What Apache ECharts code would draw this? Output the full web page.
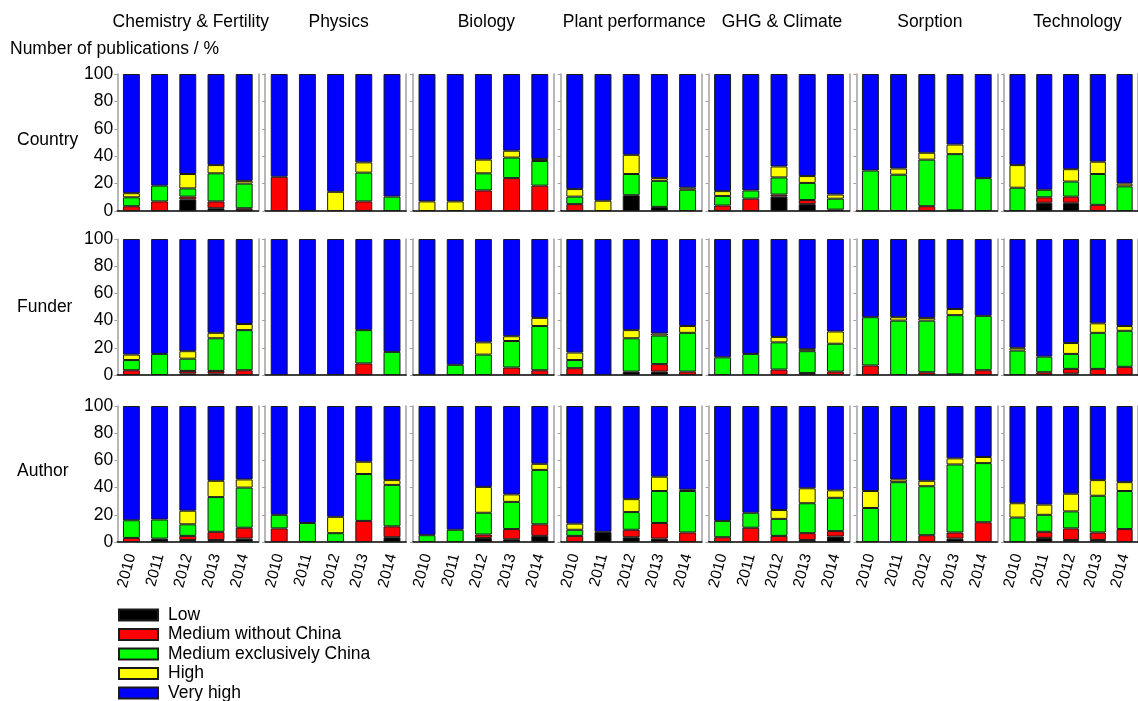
<!DOCTYPE html>
<html>
<head>
<meta charset="utf-8">
<title>Publications by impact level</title>
<script src="https://cdn.jsdelivr.net/npm/echarts@6/dist/echarts.min.js"></script>
<style>
  html, body { margin: 0; padding: 0; background: #fff; }
  #chart { width: 1138px; height: 701px; }
</style>
</head>
<body>
<div id="chart"></div>
<script>
const topics = ['Chemistry & Fertility', 'Physics', 'Biology', 'Plant performance', 'GHG & Climate', 'Sorption', 'Technology']
const rows = ['Country', 'Funder', 'Author']
const years = ['2010', '2011', '2012', '2013', '2014']
const levels = ['Low', 'Medium without China', 'Medium exclusively China', 'High', 'Very high']

// one line per topic, values per year (2010..2014), share in %
const countryLow = [[0, 0, 8.5, 2, 0.5], [0, 0, 0, 0, 0], [0, 0, 0, 0, 0], [0, 0, 11.5, 3, 0], [0, 0, 10.5, 5, 1], [0, 0, 0, 0.5, 0], [0, 6, 6, 0, 0]]
const countryMedWo = [[3.5, 7, 2, 5, 1.5], [25, 0, 0, 7, 0], [0, 0, 15, 24, 18.5], [5, 0, 0, 0, 0], [4, 9, 1.5, 3, 0], [0, 0, 3.5, 0, 0], [0, 4, 4.5, 4.5, 0]]
const countryMedCh = [[6.5, 11.5, 6, 20.5, 18], [0, 0, 0, 21, 10.5], [0, 0, 12.5, 15, 18], [5.5, 0, 15.5, 19, 15.5], [7, 6, 12.5, 12.5, 8], [29.5, 26.5, 34, 41, 24], [17, 5.5, 11, 22.5, 18]]
const countryHigh = [[3, 0, 10.5, 6, 2], [0, 0, 14, 7.5, 0], [7, 7, 10, 5, 1.5], [5.5, 7.5, 14, 2, 1.5], [3.5, 0, 8, 5, 3], [0, 4.5, 5, 7, 0], [16.5, 0, 9, 9, 2]]
const countryVeryHigh = [[87, 81.5, 73, 66.5, 78], [75, 100, 86, 64.5, 89.5], [93, 93, 62.5, 56, 62], [84, 92.5, 59, 76, 83], [85.5, 85, 67.5, 74.5, 88], [70.5, 69, 57.5, 51.5, 76], [66.5, 84.5, 69.5, 64, 80]]

const funderLow = [[0, 0, 1, 1, 0], [0, 0, 0, 0, 0], [0, 0, 0, 0, 0], [0, 0, 2.5, 2.5, 0], [0, 0, 0, 0, 0], [0, 0, 0, 0.5, 0], [0, 0, 1, 0, 0]]
const funderMedWo = [[3.5, 0, 2, 2, 3.5], [0, 0, 0, 8.5, 0], [0, 0, 0, 5.5, 3.5], [5, 0, 0, 5.5, 2.5], [0, 0, 4, 1.5, 2.5], [7, 0, 2, 0, 3.5], [0, 2, 3.5, 4.5, 6]]
const funderMedCh = [[7.5, 15.5, 9, 24, 29.5], [0, 0, 0, 24.5, 17], [0, 7.5, 15, 19.5, 32.5], [6, 0, 24.5, 21, 28.5], [13, 15.5, 20, 16, 20.5], [35.5, 40, 38, 43.5, 40], [18, 11.5, 11, 26.5, 26.5]]
const funderHigh = [[4, 0, 5.5, 4, 4.5], [0, 0, 0, 0, 0], [0, 0, 9, 3.5, 6], [5.5, 0, 6, 1.5, 5], [0, 0, 4, 1.5, 9], [0, 2.5, 2, 4.5, 0], [2, 0, 8, 7, 3.5]]
const funderVeryHigh = [[85, 84.5, 82.5, 69, 62.5], [100, 100, 100, 67, 83], [100, 92.5, 76, 71.5, 58], [83.5, 100, 67, 69.5, 64], [87, 84.5, 72, 81, 68], [57.5, 57.5, 58, 51.5, 56.5], [80, 86.5, 76.5, 62, 64]]

const authorLow = [[0, 2.5, 1.5, 1.5, 2.5], [0, 0, 0, 0, 3.5], [0, 0, 3, 2, 4.5], [0, 7.5, 3.5, 2.5, 0], [0, 0, 0, 1.5, 4], [0, 0, 0, 2.5, 0], [0, 3, 1.5, 1.5, 0]]
const authorMedWo = [[3, 0, 3, 6, 8], [10, 0, 0, 15.5, 8], [0, 0, 2.5, 7.5, 8.5], [4.5, 0, 5.5, 11.5, 7], [3.5, 10.5, 4.5, 5, 4], [0, 0, 5, 4.5, 14.5], [0, 4.5, 8.5, 5.5, 9.5]]
const authorMedCh = [[13, 14, 8.5, 25.5, 29.5], [10, 14, 6.5, 34.5, 30.5], [5, 9, 16, 20, 40], [4.5, 0, 13, 23.5, 30.5], [12, 11, 12.5, 22, 24.5], [25, 44, 36, 50, 43.5], [18, 12.5, 12.5, 27, 28]]
const authorHigh = [[0, 0, 10, 12, 6], [0, 0, 12, 9, 3.5], [0, 0, 19, 5.5, 4.5], [4.5, 0, 9.5, 10.5, 1], [0, 0, 6.5, 11, 5.5], [12.5, 2, 4, 4.5, 4.5], [10.5, 7.5, 13, 11.5, 6.5]]
const authorVeryHigh = [[84, 83.5, 77, 55, 54], [80, 86, 81.5, 41, 54.5], [95, 91, 59.5, 65, 42.5], [86.5, 92.5, 68.5, 52, 61.5], [84.5, 78.5, 76.5, 60.5, 62], [62.5, 54, 55, 38.5, 37.5], [71.5, 72.5, 64.5, 54.5, 56]]

const rowData = [
  [countryLow, countryMedWo, countryMedCh, countryHigh, countryVeryHigh],
  [funderLow, funderMedWo, funderMedCh, funderHigh, funderVeryHigh],
  [authorLow, authorMedWo, authorMedCh, authorHigh, authorVeryHigh]
]

const FONT = '"Liberation Sans", Arial, sans-serif'
const levelColors = ['#000000', '#ff0000', '#00ff00', '#ffff00', '#0000ff']

// panel geometry (px)
const colLeft = c => 117.3 + c * 147.8
const panelWidth = 141
const rowTop = [74, 239, 406]
const rowHeight = [137, 136, 136]
const rowLabelY = [140, 307, 471]

const grids = []
const xAxes = []
const yAxes = []
const series = []
const graphics = []

rows.forEach((rowName, r) => {
  topics.forEach((topic, c) => {
    const g = grids.length
    grids.push({ left: colLeft(c), top: rowTop[r], width: panelWidth, height: rowHeight[r] })

    xAxes.push({
      type: 'category',
      gridIndex: g,
      data: years,
      axisLine: { lineStyle: { color: '#000', width: 1.5 } },
      axisTick: { alignWithLabel: true, length: 3, lineStyle: { color: '#888' } },
      axisLabel: r === 2
        ? { rotate: 75, fontSize: 15.5, color: '#000', fontFamily: FONT, margin: 12, padding: [5, 0, 0, 0] }
        : { show: false }
    })

    yAxes.push({
      type: 'value',
      gridIndex: g,
      min: 0,
      max: 100,
      interval: 20,
      position: 'left',
      splitLine: { show: false },
      axisLine: { show: true, lineStyle: { color: '#a0a0a0', width: 1.5 } },
      axisTick: { show: true, length: 3, lineStyle: { color: '#a0a0a0' } },
      axisLabel: c === 0
        ? { fontSize: 17.5, color: '#000', fontFamily: FONT, margin: 4 }
        : { show: false }
    })
    // right frame line
    yAxes.push({
      type: 'value',
      gridIndex: g,
      min: 0,
      max: 100,
      position: 'right',
      splitLine: { show: false },
      axisLine: { show: true, lineStyle: { color: '#a0a0a0', width: 1.5 } },
      axisTick: { show: false },
      axisLabel: { show: false }
    })

    levels.forEach((lv, k) => {
      series.push({
        name: lv,
        type: 'bar',
        stack: 'p' + g,
        xAxisIndex: g,
        yAxisIndex: 2 * g,
        barWidth: '60%',
        data: rowData[r][k][c].map(v => (v === 0 ? '-' : v)),
        itemStyle: { color: levelColors[k], borderColor: '#1a1a1a', borderWidth: 1 }
      })
    })
  })

  graphics.push({
    type: 'text',
    x: 17,
    y: rowLabelY[r],
    style: { text: rowName, fill: '#000', font: '17.5px ' + FONT, align: 'left', verticalAlign: 'middle' }
  })
})

topics.forEach((topic, c) => {
  graphics.push({
    type: 'text',
    x: colLeft(c) + 73.5,
    y: 22,
    style: { text: topic, fill: '#000', font: '17.5px ' + FONT, align: 'center', verticalAlign: 'middle' }
  })
})

graphics.push({
  type: 'text',
  x: 10,
  y: 49,
  style: { text: 'Number of publications / %', fill: '#000', font: '17.5px ' + FONT, align: 'left', verticalAlign: 'middle' }
})

const chart = echarts.init(document.getElementById('chart'), null, { renderer: 'canvas' })
chart.setOption({
  animation: false,
  backgroundColor: '#fff',
  grid: grids,
  xAxis: xAxes,
  yAxis: yAxes,
  series: series,
  graphic: graphics,
  legend: {
    data: levels,
    orient: 'vertical',
    left: 118,
    top: 606,
    height: 110,
    padding: 0,
    itemWidth: 39,
    itemHeight: 11,
    itemGap: 1.5,
    icon: 'rect',
    selectedMode: false,
    textStyle: { fontSize: 17.5, color: '#000', fontFamily: FONT, lineHeight: 18, padding: [0, 0, 0, 5] }
  }
})
</script>
</body>
</html>
